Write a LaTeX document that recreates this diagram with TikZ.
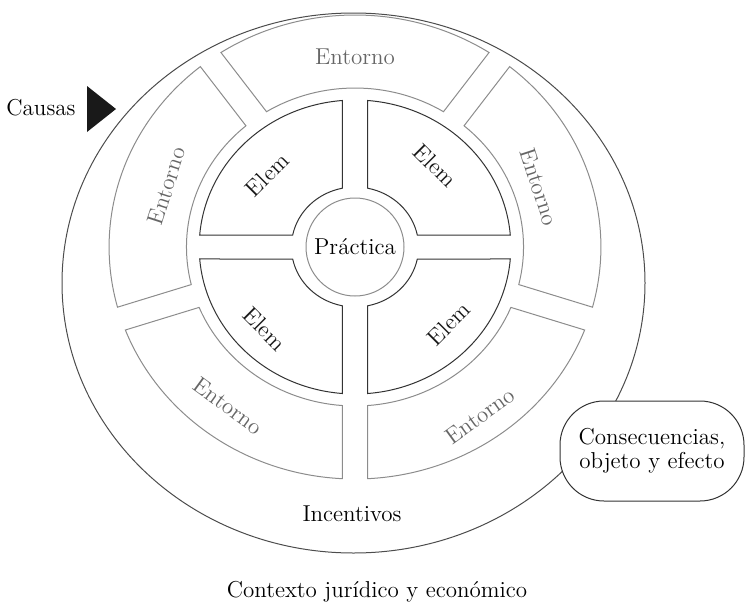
\documentclass[tikz,border=0pt]{standalone}
\usepackage{tikz}
\tikzset{
	elemseg/.style={draw=black!80, line width=0.5pt},
	entseg/.style={draw=black!45, line width=0.5pt},
	outerline/.style={draw=black!70, line width=0.5pt},
	elemtxt/.style={font=\fontsize{11.5}{12}\selectfont, text=black!90},
	enttxt/.style={font=\fontsize{11.5}{12}\selectfont, text=black!60},
	plaintxt/.style={font=\fontsize{11.5}{12}\selectfont}
}

\begin{document}
\begin{tikzpicture}[x=0.5pt, y=0.5pt]
	\useasboundingbox (0,0) rectangle (745,602);
	\draw [outerline] (353.5,319) coordinate (o) ellipse [x radius=291.5, y radius=270];
	\begin{scope}[shift={(355,355)}, xscale=1.06]
		\foreach \a in {0,90,180,270}
			\draw [elemseg] ({\a+asin(12/60)}:60) -- ({\a+asin(12/147)}:147) arc [start angle={\a+asin(12/147)}, end angle={\a+90-asin(12/147)}, radius=147] -- ({\a+90-asin(12/60)}:60) arc [start angle={\a+90-asin(12/60)}, end angle={\a+asin(12/60)}, radius=60] -- cycle;
		\foreach \a in {54,126,198,270,342}
			\draw [entseg] ({\a+asin(12/159)}:159) -- ({\a+asin(12/232)}:232) arc [start angle={\a+asin(12/232)}, end angle={\a+72-asin(12/232)}, radius=232] -- ({\a+72-asin(12/159)}:159) arc [start angle={\a+72-asin(12/159)}, end angle={\a+asin(12/159)}, radius=159] -- cycle;
		\node [draw=black!45, line width=0.5pt, circle, minimum size=49pt, inner sep=0pt, plaintxt] (prac) at (0,0) {Práctica};
		\foreach \ang/\r/\rot/\n in {139/110/45/a, 47/111/-45/b, 224/118/-45/c, 319/117/45/d}
			\node [elemtxt, rotate=\rot] (elem\n) at (\ang:\r) {Elem};
		\foreach \ang/\r/\rot/\n in {90/190/0/a, 161/188/72/b, 19/184/-72/c, 233/199/-36/d, 305/206/36/e}
			\node [enttxt, rotate=\rot] (ent\n) at (\ang:\r) {Entorno};
	\end{scope}
	\node [plaintxt, anchor=base] (causas) at (41,487) {Causas};
	\fill [black!90] (87,516) coordinate (t1) -- (116,493) coordinate (t2) -- (87,470) coordinate (t3) -- cycle;
	\node [plaintxt, anchor=base] (incent) at (352,81) {Incentivos};
	\node [plaintxt, anchor=base] (ctx) at (377,5) {Contexto jurídico y económico};
	\node [plaintxt, draw=black!80, line width=0.5pt, fill=white, rounded corners=22pt, minimum width=92pt, minimum height=50pt, align=center] (cons) at (652,151) {Consecuencias,\\objeto y efecto};
\end{tikzpicture}
\end{document}
